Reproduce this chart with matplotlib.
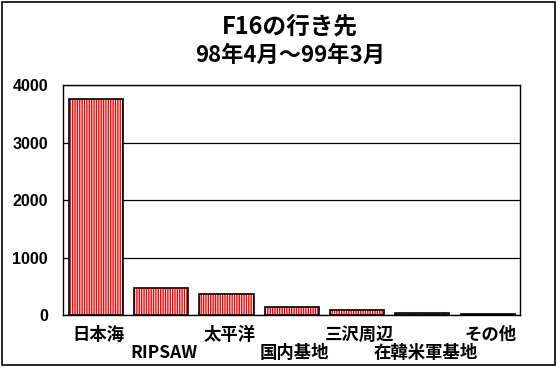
import matplotlib.pyplot as plt
from matplotlib.patches import Rectangle
import matplotlib.transforms as mtransforms

plt.rcParams['font.family'] = ['Noto Sans CJK JP', 'DejaVu Sans']
plt.rcParams['hatch.linewidth'] = 1.0

# data
places = ['日本海', 'RIPSAW', '太平洋', '国内基地', '三沢周辺', '在韓米軍基地', 'その他']
counts = [3750, 465, 360, 135, 82, 35, 17]
yticks = [0, 1000, 2000, 3000, 4000]

fig = plt.figure(figsize=(5.6, 3.69), dpi=100)
ax = fig.add_axes([0.113, 0.1463, 0.816, 0.6233])

x = list(range(len(places)))
# red vertical stripes, then black outline on top
ax.bar(x, counts, width=0.83, color='white', edgecolor='#ff0000', hatch='|||||||', linewidth=0, zorder=2)
ax.bar(x, counts, width=0.83, fill=False, edgecolor='black', linewidth=1.2, zorder=3)

ax.set_xlim(-0.5, len(places) - 0.5)
ax.set_ylim(0, 4000)
ax.set_yticks(yticks)
ax.set_yticklabels([str(v) for v in yticks], fontsize=11.5, fontweight='bold', family='Liberation Sans')
ax.tick_params(axis='y', length=0, pad=11)
ax.set_xticks([])
ax.yaxis.grid(True, color='black', linewidth=0.9, zorder=1)
ax.set_axisbelow(True)
for s in ax.spines.values():
    s.set_linewidth(1.0)

# staggered category labels (two rows)
for i, name in enumerate(places):
    dy = -20 / 100 if i % 2 == 0 else -37.5 / 100
    tr = ax.get_xaxis_transform() + mtransforms.ScaledTranslation(3 / 100, dy, fig.dpi_scale_trans)
    ax.text(i, 0, name, transform=tr, ha='center', va='center', fontsize=12.5, fontweight='bold')

fig.text(0.518, 0.927, 'F16の行き先', ha='center', va='center', fontsize=17, fontweight='bold')
fig.text(0.518, 0.851, '98年4月～99年3月', ha='center', va='center', fontsize=16, fontweight='bold')

fig.patches.append(Rectangle((0.0027, 0.0108), 0.989, 0.985, transform=fig.transFigure,
                             fill=False, edgecolor='black', linewidth=1.2))

fig.savefig('out.png', dpi=100)
